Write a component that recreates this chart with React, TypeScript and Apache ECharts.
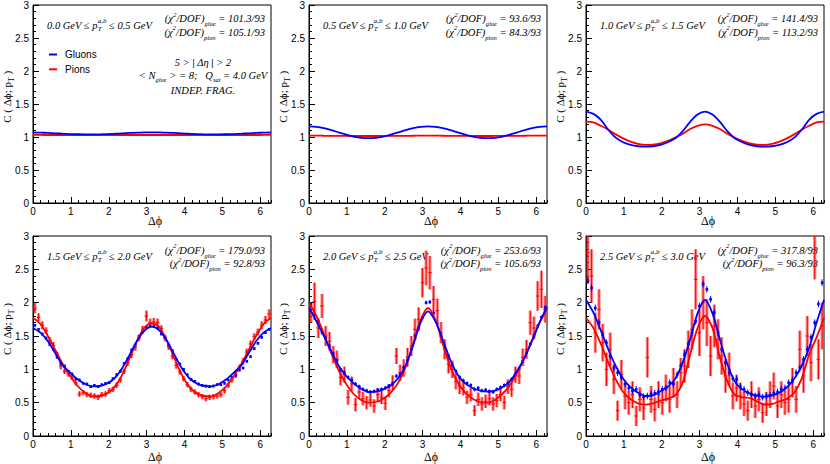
import React, { useEffect, useRef } from "react";
import * as echarts from "echarts";

// ---------- data ----------
const PHI_MAX = 6.283185307179586;

const PT_LOW = ["0.0", "0.5", "1.0", "1.5", "2.0", "2.5"];
const PT_HIGH = ["0.5", "1.0", "1.5", "2.0", "2.5", "3.0"];
const CHI_GLUE = ["101.3/93", "93.6/93", "141.4/93", "179.0/93", "253.6/93", "317.8/93"];
const CHI_PION = ["105.1/93", "84.3/93", "113.2/93", "92.8/93", "105.6/93", "96.3/93"];

const PHI_FIT = [
  0, 0.196, 0.393, 0.589, 0.785, 0.982, 1.178, 1.374, 1.571, 1.767, 1.963,
  2.16, 2.356, 2.553, 2.749, 2.945, 3.142, 3.338, 3.534, 3.731, 3.927, 4.123,
  4.32, 4.516, 4.712, 4.909, 5.105, 5.301, 5.498, 5.694, 5.89, 6.087, 6.283,
];

const P1_GLUE_FIT = [1.068, 1.066, 1.062, 1.056, 1.05, 1.045, 1.042, 1.04, 1.04, 1.041, 1.044, 1.049, 1.055, 1.061, 1.066, 1.069, 1.07, 1.069, 1.066, 1.061, 1.055, 1.049, 1.044, 1.041, 1.04, 1.04, 1.042, 1.045, 1.05, 1.056, 1.062, 1.066, 1.068];
const P1_PION_FIT = [1.031, 1.031, 1.03, 1.03, 1.03, 1.029, 1.029, 1.029, 1.029, 1.029, 1.029, 1.03, 1.03, 1.03, 1.03, 1.03, 1.031, 1.03, 1.03, 1.03, 1.03, 1.03, 1.029, 1.029, 1.029, 1.029, 1.029, 1.029, 1.03, 1.03, 1.03, 1.031, 1.031];
const P2_GLUE_FIT = [1.16, 1.153, 1.134, 1.105, 1.07, 1.036, 1.007, 0.988, 0.982, 0.988, 1.007, 1.036, 1.07, 1.105, 1.134, 1.153, 1.16, 1.153, 1.134, 1.105, 1.07, 1.036, 1.007, 0.988, 0.982, 0.988, 1.007, 1.036, 1.07, 1.105, 1.134, 1.153, 1.16];
const P2_PION_FIT = [1.02, 1.02, 1.019, 1.018, 1.017, 1.016, 1.015, 1.015, 1.015, 1.015, 1.016, 1.016, 1.017, 1.018, 1.019, 1.02, 1.02, 1.02, 1.019, 1.018, 1.017, 1.016, 1.016, 1.015, 1.015, 1.016, 1.016, 1.017, 1.018, 1.019, 1.02, 1.021, 1.022];
const P3_GLUE_FIT = [1.383, 1.35, 1.26, 1.11, 0.99, 0.92, 0.88, 0.86, 0.855, 0.86, 0.88, 0.92, 0.98, 1.09, 1.23, 1.34, 1.385, 1.34, 1.23, 1.09, 0.98, 0.92, 0.88, 0.86, 0.855, 0.86, 0.88, 0.92, 0.99, 1.11, 1.26, 1.35, 1.383];
const P3_PION_FIT = [1.232, 1.22, 1.17, 1.11, 1.04, 0.98, 0.93, 0.895, 0.88, 0.885, 0.905, 0.94, 0.99, 1.05, 1.12, 1.17, 1.19, 1.17, 1.12, 1.05, 0.99, 0.94, 0.905, 0.885, 0.88, 0.895, 0.93, 0.98, 1.04, 1.11, 1.17, 1.22, 1.232];
const P4_GLUE_FIT = [1.62, 1.55, 1.42, 1.24, 1.06, 0.95, 0.85, 0.78, 0.745, 0.75, 0.79, 0.87, 1.02, 1.22, 1.43, 1.58, 1.64, 1.58, 1.43, 1.22, 1.02, 0.87, 0.79, 0.75, 0.745, 0.78, 0.85, 0.95, 1.06, 1.24, 1.42, 1.55, 1.62];
const P4_PION_FIT = [1.77, 1.68, 1.5, 1.29, 1.08, 0.9, 0.75, 0.65, 0.595, 0.6, 0.64, 0.74, 0.92, 1.17, 1.43, 1.63, 1.69, 1.63, 1.43, 1.17, 0.92, 0.74, 0.64, 0.6, 0.595, 0.65, 0.75, 0.9, 1.08, 1.29, 1.5, 1.68, 1.77];
const P5_GLUE_FIT = [1.93, 1.72, 1.5, 1.27, 1.05, 0.9, 0.79, 0.71, 0.66, 0.665, 0.7, 0.76, 0.87, 1.06, 1.36, 1.7, 1.87, 1.72, 1.44, 1.14, 0.92, 0.79, 0.72, 0.68, 0.665, 0.68, 0.73, 0.82, 0.98, 1.18, 1.43, 1.7, 1.94];
const P5_PION_FIT = [2.0, 1.8, 1.53, 1.24, 0.98, 0.78, 0.63, 0.54, 0.5, 0.51, 0.56, 0.65, 0.8, 1.04, 1.38, 1.74, 1.92, 1.74, 1.38, 1.04, 0.8, 0.65, 0.56, 0.51, 0.5, 0.54, 0.63, 0.76, 0.95, 1.18, 1.44, 1.7, 1.9];
const P6_GLUE_FIT = [2.04, 1.85, 1.58, 1.3, 1.05, 0.86, 0.73, 0.65, 0.6, 0.61, 0.67, 0.74, 0.86, 1.1, 1.45, 1.84, 2.04, 1.84, 1.45, 1.08, 0.82, 0.7, 0.64, 0.605, 0.59, 0.61, 0.65, 0.73, 0.86, 1.05, 1.32, 1.7, 2.04];
const P6_PION_FIT = [1.77, 1.62, 1.38, 1.1, 0.85, 0.66, 0.55, 0.49, 0.47, 0.49, 0.53, 0.56, 0.61, 0.8, 1.22, 1.62, 1.8, 1.62, 1.18, 0.82, 0.62, 0.58, 0.57, 0.52, 0.47, 0.48, 0.52, 0.56, 0.65, 0.86, 1.22, 1.48, 1.77];

const PHI_BIN = [
  0.049, 0.147, 0.245, 0.344, 0.442, 0.54, 0.638, 0.736,
  0.834, 0.933, 1.031, 1.129, 1.227, 1.325, 1.423, 1.522,
  1.62, 1.718, 1.816, 1.914, 2.013, 2.111, 2.209, 2.307,
  2.405, 2.503, 2.602, 2.7, 2.798, 2.896, 2.994, 3.092,
  3.191, 3.289, 3.387, 3.485, 3.583, 3.682, 3.78, 3.878,
  3.976, 4.074, 4.172, 4.271, 4.369, 4.467, 4.565, 4.663,
  4.761, 4.86, 4.958, 5.056, 5.154, 5.252, 5.35, 5.449,
  5.547, 5.645, 5.743, 5.841, 5.939, 6.038, 6.136, 6.234,
];

const P4_GLUE_DATA = [
  1.66, 1.6, 1.53, 1.47, 1.37, 1.3, 1.18, 1.09, 1.05, 0.97,
  0.93, 0.86, 0.84, 0.79, 0.78, 0.74, 0.76, 0.74, 0.77, 0.79,
  0.8, 0.86, 0.92, 0.97, 1.09, 1.16, 1.29, 1.37, 1.49, 1.56,
  1.63, 1.65, 1.64, 1.62, 1.53, 1.48, 1.36, 1.28, 1.15, 1.08,
  1.0, 0.92, 0.85, 0.82, 0.78, 0.76, 0.75, 0.74, 0.75, 0.77,
  0.77, 0.79, 0.84, 0.88, 0.91, 0.99, 1.02, 1.12, 1.19, 1.31,
  1.39, 1.48, 1.55, 1.6,
];
const P4_PION_DATA = [
  1.92, 1.78, 1.66, 1.58, 1.43, 1.36, 1.21, 1.05, 0.97, 0.93,
  0.88, 0.8, 0.63, 0.65, 0.62, 0.61, 0.6, 0.58, 0.62, 0.63,
  0.68, 0.7, 0.76, 0.84, 0.97, 1.1, 1.22, 1.33, 1.47, 1.6,
  1.8, 1.7, 1.71, 1.7, 1.61, 1.47, 1.34, 1.2, 1.06, 0.96,
  0.86, 0.77, 0.7, 0.66, 0.62, 0.59, 0.56, 0.58, 0.59, 0.6,
  0.62, 0.68, 0.76, 0.84, 0.91, 1.02, 1.12, 1.26, 1.38, 1.49,
  1.56, 1.66, 1.74, 1.83,
];
const P4_PION_ERR = [
  0.08, 0.06, 0.06, 0.05, 0.05, 0.05, 0.05, 0.05, 0.04, 0.04,
  0.04, 0.04, 0.04, 0.04, 0.04, 0.04, 0.04, 0.04, 0.04, 0.04,
  0.04, 0.04, 0.04, 0.04, 0.04, 0.05, 0.05, 0.05, 0.05, 0.05,
  0.08, 0.06, 0.06, 0.06, 0.05, 0.05, 0.05, 0.05, 0.05, 0.04,
  0.04, 0.04, 0.04, 0.04, 0.04, 0.04, 0.04, 0.04, 0.04, 0.04,
  0.04, 0.04, 0.04, 0.04, 0.04, 0.05, 0.05, 0.05, 0.05, 0.05,
  0.05, 0.06, 0.06, 0.07,
];
const P5_GLUE_DATA = [
  1.98, 1.82, 1.72, 1.55, 1.47, 1.35, 1.24, 1.13, 1.0, 0.95,
  0.88, 0.84, 0.78, 0.74, 0.7, 0.68, 0.66, 0.67, 0.69, 0.7,
  0.72, 0.75, 0.78, 0.9, 0.92, 1.03, 1.14, 1.3, 1.5, 1.63,
  1.78, 2.0, 2.01, 1.84, 1.68, 1.5, 1.33, 1.2, 1.07, 0.97,
  0.88, 0.83, 0.79, 0.76, 0.7, 0.72, 0.68, 0.69, 0.67, 0.66,
  0.7, 0.73, 0.76, 0.79, 0.85, 0.93, 1.01, 1.12, 1.25, 1.38,
  1.51, 1.65, 1.78, 1.93,
];
const P5_PION_DATA = [
  1.85, 2.02, 1.62, 1.95, 1.5, 1.42, 1.22, 1.15, 0.88, 0.92,
  0.58, 0.78, 0.47, 0.66, 0.56, 0.5, 0.54, 0.45, 0.62, 0.58,
  0.49, 0.68, 0.8, 1.2, 0.95, 1.02, 1.18, 1.35, 1.6, 1.75,
  2.3, 2.52, 2.45, 2.05, 1.88, 1.55, 1.3, 1.08, 1.0, 0.82,
  0.75, 0.72, 0.58, 0.62, 0.38, 0.55, 0.48, 0.52, 0.56, 0.48,
  0.53, 0.62, 0.5, 0.74, 0.7, 0.92, 0.9, 1.18, 1.3, 1.7,
  1.62, 2.1, 2.2, 1.9,
];
const P5_PION_ERR = [
  0.15, 0.28, 0.15, 0.18, 0.15, 0.14, 0.13, 0.13, 0.12, 0.12,
  0.11, 0.11, 0.1, 0.1, 0.1, 0.1, 0.1, 0.1, 0.1, 0.1,
  0.1, 0.1, 0.11, 0.12, 0.12, 0.13, 0.14, 0.15, 0.16, 0.18,
  0.22, 0.26, 0.25, 0.2, 0.18, 0.16, 0.15, 0.14, 0.13, 0.12,
  0.12, 0.11, 0.1, 0.1, 0.08, 0.1, 0.1, 0.1, 0.1, 0.1,
  0.1, 0.1, 0.1, 0.11, 0.11, 0.12, 0.12, 0.13, 0.14, 0.18,
  0.17, 0.22, 0.28, 0.2,
];
const P6_GLUE_DATA = [
  2.33, 2.22, 1.92, 1.7, 1.52, 1.4, 1.2, 1.02, 0.95, 0.88,
  0.78, 0.72, 0.68, 0.7, 0.62, 0.59, 0.6, 0.63, 0.64, 0.66,
  0.7, 0.72, 0.8, 0.78, 0.92, 1.05, 1.22, 1.38, 1.55, 1.72,
  1.95, 2.28, 2.2, 2.05, 1.85, 1.55, 1.3, 1.1, 0.95, 0.86,
  0.85, 0.74, 0.7, 0.65, 0.62, 0.6, 0.62, 0.58, 0.6, 0.61,
  0.64, 0.66, 0.7, 0.72, 0.8, 0.84, 0.95, 1.02, 1.15, 1.3,
  1.48, 1.7, 1.98, 2.3,
];
const P6_PION_DATA = [
  2.75, 2.4, 1.55, 1.9, 1.4, 1.0, 1.3, 0.85, 0.38, 0.92,
  0.6, 0.5, 0.62, 0.3, 0.55, 0.42, 1.18, 0.55, 0.4, 0.62,
  0.5, 0.72, 0.55, 0.8, 0.62, 0.95, 1.05, 1.3, 1.6, 2.35,
  1.55, 2.0, 1.7, 1.2, 1.65, 1.45, 1.2, 0.9, 1.0, 0.6,
  0.72, 0.6, 0.48, 0.38, 0.62, 0.45, 0.55, 0.35, 0.48, 0.62,
  0.75, 0.45, 0.62, 0.5, 0.55, 0.8, 0.55, 1.3, 0.9, 1.5,
  1.1, 2.8, 1.15, 1.65,
];
const P6_PION_ERR = [
  0.45, 0.4, 0.3, 0.3, 0.28, 0.25, 0.25, 0.22, 0.15, 0.22,
  0.2, 0.18, 0.2, 0.15, 0.18, 0.18, 0.3, 0.2, 0.18, 0.2,
  0.18, 0.2, 0.2, 0.22, 0.2, 0.22, 0.25, 0.28, 0.3, 0.45,
  0.35, 0.4, 0.35, 0.3, 0.32, 0.3, 0.28, 0.25, 0.25, 0.2,
  0.2, 0.2, 0.18, 0.15, 0.2, 0.18, 0.18, 0.15, 0.18, 0.2,
  0.2, 0.18, 0.2, 0.18, 0.2, 0.22, 0.2, 0.28, 0.25, 0.3,
  0.28, 0.45, 0.3, 0.35,
];
const GLUE_ERR = [0, 0, 0, 0.02, 0.03, 0.05];

const GLUE_FITS = [P1_GLUE_FIT, P2_GLUE_FIT, P3_GLUE_FIT, P4_GLUE_FIT, P5_GLUE_FIT, P6_GLUE_FIT];
const PION_FITS = [P1_PION_FIT, P2_PION_FIT, P3_PION_FIT, P4_PION_FIT, P5_PION_FIT, P6_PION_FIT];
const GLUE_DATA = [null, null, null, P4_GLUE_DATA, P5_GLUE_DATA, P6_GLUE_DATA];
const PION_DATA = [null, null, null, P4_PION_DATA, P5_PION_DATA, P6_PION_DATA];
const PION_ERR = [null, null, null, P4_PION_ERR, P5_PION_ERR, P6_PION_ERR];

// ---------- layout ----------
const COL_LEFT = [33, 309, 586];
const ROW_TOP = [4.5, 236];
const ROW_H = [198.5, 200];
const PLOT_W = 238;

const BLUE = "#0000ff";
const RED = "#ff0000";
const SERIF = '"Liberation Serif", "DejaVu Serif", serif';
const SANS = '"Liberation Sans", Arial, sans-serif';
const NOTE_SIZE = 10.5;

type Part = { t: string; s?: number; dy?: number; stack?: boolean; bold?: boolean };

let measureCtx: CanvasRenderingContext2D | null = null;
function measure(text: string, font: string): number {
  if (!measureCtx) measureCtx = document.createElement("canvas").getContext("2d");
  if (!measureCtx) return text.length * 5;
  measureCtx.font = font;
  return measureCtx.measureText(text).width;
}

function run(
  x: number,
  y: number,
  parts: Part[],
  align: "left" | "right" | "center",
  family: string,
  italic: boolean,
  size: number
): any[] {
  const items: any[] = [];
  let cur = 0;
  let lastStart = 0;
  let lastW = 0;
  for (const p of parts) {
    const s = p.s ?? size;
    const font = `${italic ? "italic " : ""}${p.bold ? "bold " : ""}${s}px ${family}`;
    const w = measure(p.t, font);
    const leadStr = p.t.slice(0, p.t.length - p.t.trimStart().length);
    const leadW = leadStr ? measure(leadStr, font) : 0;
    let px: number;
    if (p.stack) {
      px = lastStart;
      const nw = Math.max(lastW, w);
      cur = lastStart + nw;
      lastW = nw;
    } else {
      px = cur;
      lastStart = cur;
      lastW = w;
      cur += w;
    }
    items.push({ p, px: px + leadW, s });
  }
  const x0 = align === "left" ? x : align === "right" ? x - cur : x - cur / 2;
  return items
    .filter((it) => it.p.t.trim().length > 0)
    .map((it) => ({
      type: "text",
      x: x0 + it.px,
      y: y + (it.p.dy || 0),
      silent: true,
      style: {
        text: it.p.t.trim(),
        fontSize: it.s,
        fontFamily: family,
        fontStyle: italic ? "italic" : "normal",
        fontWeight: it.p.bold ? "bold" : "normal",
        fill: "#000",
        align: "left",
        verticalAlign: "middle",
      },
    }));
}

function errRender(color: string, fill: string | null, marker: boolean) {
  return (params: any, api: any) => {
    const x = api.value(0);
    const y = api.value(1);
    const e = api.value(2);
    const cs = params.coordSys;
    const p = api.coord([x, y]);
    const hi = api.coord([x, y + e]);
    const lo = api.coord([x, y - e]);
    const top = Math.max(hi[1], cs.y);
    const bot = Math.min(lo[1], cs.y + cs.height);
    const children: any[] = [];
    if (fill && bot > top) {
      children.push({
        type: "rect",
        shape: { x: p[0] - 1.6, y: top, width: 3.2, height: bot - top },
        style: { fill },
      });
    }
    if (bot > top) {
      children.push({
        type: "line",
        shape: { x1: p[0], y1: top, x2: p[0], y2: bot },
        style: { stroke: color, lineWidth: 1 },
      });
    }
    if (p[1] >= cs.y) {
      if (marker) {
        children.push({
          type: "rect",
          shape: { x: p[0] - 1.3, y: p[1] - 1.3, width: 2.6, height: 2.6 },
          style: { fill: color },
        });
      } else {
        children.push({
          type: "line",
          shape: { x1: p[0] - 1.8, y1: p[1], x2: p[0] + 1.8, y2: p[1] },
          style: { stroke: color, lineWidth: 1 },
        });
      }
    }
    return { type: "group", children };
  };
}

function buildOption() {
  const grids: any[] = [];
  const xAxes: any[] = [];
  const yAxes: any[] = [];
  const series: any[] = [];
  const graphics: any[] = [];

  for (let p = 0; p < 6; p++) {
    const r = Math.floor(p / 3);
    const c = p % 3;
    const gl = COL_LEFT[c];
    const gt = ROW_TOP[r];
    const h = ROW_H[r];

    grids.push({
      left: gl,
      top: gt,
      width: PLOT_W,
      height: h,
      show: true,
      borderColor: "#000",
      borderWidth: 1,
      backgroundColor: "transparent",
    });

    xAxes.push({
      gridIndex: p,
      type: "value",
      position: "bottom",
      min: 0,
      max: PHI_MAX,
      interval: 1,
      axisLine: { show: true, onZero: false, lineStyle: { color: "#000", width: 1 } },
      axisTick: { show: true, inside: true, length: 6, lineStyle: { color: "#000", width: 1 } },
      axisLabel: {
        show: true,
        fontSize: 10,
        fontFamily: SANS,
        color: "#000",
        margin: 3,
        showMaxLabel: false,
      },
      splitLine: { show: false },
    });
    xAxes.push({
      gridIndex: p,
      type: "value",
      position: "bottom",
      min: 0,
      max: PHI_MAX,
      interval: 0.2,
      axisLine: { show: false },
      axisTick: { show: true, inside: true, length: 3, lineStyle: { color: "#000", width: 1 } },
      axisLabel: { show: false },
      splitLine: { show: false },
    });
    yAxes.push({
      gridIndex: p,
      type: "value",
      min: 0,
      max: 3,
      interval: 0.5,
      axisLine: { show: true, onZero: false, lineStyle: { color: "#000", width: 1 } },
      axisTick: { show: true, inside: true, length: 6, lineStyle: { color: "#000", width: 1 } },
      minorTick: { show: true, splitNumber: 5, length: 3, lineStyle: { color: "#000", width: 1 } },
      axisLabel: { fontSize: 10, fontFamily: SANS, color: "#000", margin: 4 },
      splitLine: { show: false },
      minorSplitLine: { show: false },
    });

    const xi = 2 * p;
    const pd = PION_DATA[p];
    const pe = PION_ERR[p];
    const gd = GLUE_DATA[p];
    if (pd && pe) {
      series.push({
        type: "custom",
        xAxisIndex: xi,
        yAxisIndex: p,
        clip: true,
        silent: true,
        z: 2,
        data: PHI_BIN.map((x, i) => [x, pd[i], pe[i]]),
        encode: { x: 0, y: 1 },
        renderItem: errRender(RED, "rgba(255,40,40,0.55)", false),
      });
    }
    if (gd) {
      series.push({
        type: "custom",
        xAxisIndex: xi,
        yAxisIndex: p,
        clip: true,
        silent: true,
        z: 3,
        data: PHI_BIN.map((x, i) => [x, gd[i], GLUE_ERR[p]]),
        encode: { x: 0, y: 1 },
        renderItem: errRender(BLUE, null, true),
      });
    }
    series.push({
      type: "line",
      xAxisIndex: xi,
      yAxisIndex: p,
      data: PHI_FIT.map((x, i) => [x, PION_FITS[p][i]]),
      showSymbol: false,
      symbol: "none",
      smooth: 0.3,
      silent: true,
      z: 4,
      lineStyle: { color: RED, width: 1.8 },
      itemStyle: { color: RED },
    });
    series.push({
      type: "line",
      xAxisIndex: xi,
      yAxisIndex: p,
      data: PHI_FIT.map((x, i) => [x, GLUE_FITS[p][i]]),
      showSymbol: false,
      symbol: "none",
      smooth: 0.3,
      silent: true,
      z: 5,
      lineStyle: { color: BLUE, width: 1.8 },
      itemStyle: { color: BLUE },
    });

    // pT label
    graphics.push(
      ...run(
        gl + 14,
        gt + 20.5,
        [
          { t: `${PT_LOW[p]} GeV ≤ p` },
          { t: "a,b", s: 7, dy: -4.5 },
          { t: "T", s: 7, dy: 3.5, stack: true },
          { t: ` ≤ ${PT_HIGH[p]} GeV` },
        ],
        "left",
        SERIF,
        true,
        NOTE_SIZE
      )
    );
    // chi2 lines
    graphics.push(
      ...run(
        gl + 232,
        gt + 14,
        [
          { t: "(χ" },
          { t: "2", s: 7, dy: -4 },
          { t: "/DOF)" },
          { t: "glue", s: 6.5, dy: 5 },
          { t: ` = ${CHI_GLUE[p]}` },
        ],
        "right",
        SERIF,
        true,
        NOTE_SIZE
      )
    );
    graphics.push(
      ...run(
        gl + 232,
        gt + 27.5,
        [
          { t: "(χ" },
          { t: "2", s: 7, dy: -4 },
          { t: "/DOF)" },
          { t: "pion", s: 6.5, dy: 5 },
          { t: ` = ${CHI_PION[p]}` },
        ],
        "right",
        SERIF,
        true,
        NOTE_SIZE
      )
    );
    // y title (rotated)
    graphics.push({
      type: "group",
      x: gl - 26,
      y: gt + h / 2 - 7,
      rotation: Math.PI / 2,
      silent: true,
      children: run(
        0,
        0,
        [{ t: "C ( Δϕ; p" }, { t: "T", s: 8, dy: 4 }, { t: " )" }],
        "center",
        SERIF,
        false,
        11
      ),
    });
    // x title
    graphics.push({
      type: "text",
      x: gl + 122,
      y: gt + h + (r === 0 ? 18 : 20.5),
      silent: true,
      style: {
        text: "Δϕ",
        fontSize: 12,
        fontFamily: SERIF,
        fill: "#000",
        align: "center",
        verticalAlign: "middle",
      },
    });

    if (p === 0) {
      // legend
      const legend = [
        { name: "Gluons", color: BLUE, y: gt + 50 },
        { name: "Pions", color: RED, y: gt + 64.8 },
      ];
      for (const it of legend) {
        graphics.push({
          type: "line",
          silent: true,
          shape: { x1: gl + 16, y1: it.y, x2: gl + 24, y2: it.y },
          style: { stroke: it.color, lineWidth: 2 },
        });
        graphics.push({
          type: "text",
          x: gl + 32,
          y: it.y,
          silent: true,
          style: {
            text: it.name,
            fontSize: 10,
            fontFamily: SANS,
            fill: "#000",
            align: "left",
            verticalAlign: "middle",
          },
        });
      }
      const cx = gl + 170;
      graphics.push(
        ...run(
          cx,
          gt + 57.5,
          [{ t: "5 >" }, { t: " |", bold: true }, { t: " Δη" }, { t: " |", bold: true }, { t: " > 2" }],
          "center",
          SERIF,
          true,
          NOTE_SIZE
        )
      );
      graphics.push(
        ...run(
          cx,
          gt + 70.5,
          [
            { t: "< N" },
            { t: "glue", s: 6.5, dy: 4 },
            { t: " > = 8;" },
            { t: "  " },
            { t: " Q" },
            { t: "sat", s: 6.5, dy: 4 },
            { t: " = 4.0 GeV" },
          ],
          "center",
          SERIF,
          true,
          NOTE_SIZE
        )
      );
      graphics.push(...run(cx, gt + 85.5, [{ t: "INDEP. FRAG." }], "center", SERIF, true, NOTE_SIZE));
    }
  }

  return {
    animation: false,
    backgroundColor: "#ffffff",
    grid: grids,
    xAxis: xAxes,
    yAxis: yAxes,
    series,
    graphic: { elements: graphics },
  };
}

export default function App() {
  const ref = useRef<HTMLDivElement | null>(null);
  useEffect(() => {
    if (!ref.current) return;
    const chart = echarts.init(ref.current, undefined, { renderer: "svg" });
    chart.setOption(buildOption() as any);
    return () => chart.dispose();
  }, []);
  return (
    <div
      ref={ref}
      style={{ position: "absolute", left: 0, top: 0, width: 830, height: 464, background: "#fff" }}
    />
  );
}
